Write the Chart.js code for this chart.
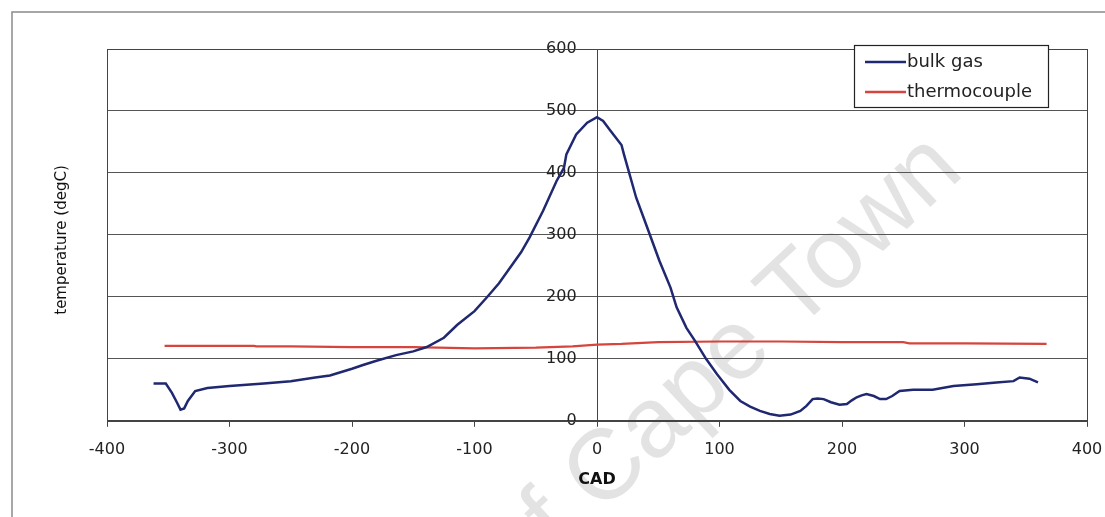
<!DOCTYPE html>
<html>
<head>
<meta charset="utf-8">
<script src="https://cdn.jsdelivr.net/npm/chart.js@4.4.1/dist/chart.umd.min.js"></script>
<style>
  body { margin: 0; background: #fff; }
  #wrap { width: 1105px; height: 517px; position: relative; }
</style>
</head>
<body>
<div id="wrap"><canvas id="myChart"></canvas></div>
<script>
// Data
// =======================================================
var bulkX = [-362, -352, -347, -343, -340, -337, -334, -328, -318, -300, -272, -250, -230, -218, -200, -191, -180, -164, -150, -139,
    -125, -114, -100, -90, -80, -71, -62, -55, -44, -33, -27, -25, -17, -8, 0, 5, 11, 20, 22, 32, 38, 43, 51, 60, 65, 73, 80, 89,
    98, 108, 117, 125, 133, 141, 149, 158, 166, 171, 176, 180, 185, 191, 198, 204, 208, 212, 216, 220, 226, 231, 236, 241, 247,
    258, 274, 291, 310, 326, 340, 345, 353, 360];
var bulkY = [60, 60, 45, 30, 18, 20, 32, 48, 53, 56, 60, 64, 70, 73, 84, 90, 97, 106, 112, 119,
    134, 155, 177, 199, 222, 247, 272, 296, 339, 387, 408, 430, 462, 481, 490, 484, 468, 445, 430, 360, 328, 301, 258, 215, 183, 150, 129, 100,
    75, 50, 32, 23, 16, 11, 8, 10, 16, 24, 35, 36, 35, 30, 26, 27, 33, 38, 41, 43, 40, 35, 35, 40, 48,
    50, 50, 56, 59, 62, 64, 70, 68, 62];

var tcX = [-353, -300, -280, -278, -250, -200, -150, -100, -50, -20, 0, 20, 50, 100, 150, 200, 250, 255, 300, 367];
var tcY = [121, 121, 121, 120, 120, 119, 119, 117, 118, 120, 123, 124, 127, 128, 128, 127, 127, 125, 125, 124];

var seriesNames = ["bulk gas", "thermocouple"];
var xTicks = [-400, -300, -200, -100, 0, 100, 200, 300, 400];
var yTicks = [0, 100, 200, 300, 400, 500, 600];

function toPoints(xs, ys) {
    var pts = [];
    for (var i = 0; i < xs.length; i++) {
        pts.push({ x: xs[i], y: ys[i] });
    }
    return pts;
}

// Frame, axis title, watermark and boxed legend
// =======================================================
var decorPlugin = {
    id: "decor",
    beforeDraw: function (chart) {
        var ctx = chart.ctx;
        ctx.save();
        // outer chart border (only top and left edges show)
        ctx.strokeStyle = "#8a8a8a";
        ctx.lineWidth = 1.5;
        ctx.strokeRect(12, 12, 1200, 700);
        // watermark, "C" of Cape starts at the anchor
        ctx.translate(600, 515);
        ctx.rotate(-43 * Math.PI / 180);
        ctx.font = "100px 'Liberation Sans'";
        ctx.fillStyle = "rgba(0,0,0,0.11)";
        ctx.textBaseline = "alphabetic";
        ctx.textAlign = "right";
        ctx.fillText("University of ", 0, 0);
        ctx.textAlign = "left";
        ctx.fillText("Cape Town", 0, 0);
        ctx.restore();
    },
    afterDraw: function (chart) {
        var ctx = chart.ctx;
        var a = chart.chartArea;
        ctx.save();
        // plot area border
        ctx.strokeStyle = "#444";
        ctx.lineWidth = 1;
        ctx.strokeRect(Math.round(a.left) + 0.5, Math.round(a.top) + 0.5, Math.round(a.right - a.left), Math.round(a.bottom - a.top));

        // y axis title
        ctx.translate(62, 240);
        ctx.rotate(-Math.PI / 2);
        ctx.font = "15px 'DejaVu Sans'";
        ctx.fillStyle = "#111";
        ctx.textAlign = "center";
        ctx.textBaseline = "middle";
        ctx.fillText("temperature (degC)", 0, 0);
        ctx.restore();

        // legend box
        ctx.save();
        ctx.fillStyle = "#fff";
        ctx.fillRect(854, 45, 194, 62);
        ctx.strokeStyle = "#222";
        ctx.lineWidth = 1.2;
        ctx.strokeRect(854.5, 45.5, 194, 62);
        var rows = [62, 92];
        chart.data.datasets.forEach(function (ds, i) {
            ctx.strokeStyle = ds.borderColor;
            ctx.lineWidth = 2.5;
            ctx.beginPath();
            ctx.moveTo(865, rows[i]);
            ctx.lineTo(906, rows[i]);
            ctx.stroke();
            ctx.font = "18px 'DejaVu Sans'";
            ctx.fillStyle = "#222";
            ctx.textAlign = "left";
            ctx.textBaseline = "middle";
            ctx.fillText(ds.label, 907, rows[i]);
        });
        ctx.restore();
    }
};

var ctx = document.getElementById("myChart");

var myChart = new Chart(ctx, {
    type: "scatter",
    data: {
        datasets: [{
            label: seriesNames[0],
            data: toPoints(bulkX, bulkY),
            showLine: true,
            borderColor: "#1f2870",
            borderWidth: 2.5,
            pointRadius: 0,
            tension: 0
        }, {
            label: seriesNames[1],
            data: toPoints(tcX, tcY),
            showLine: true,
            borderColor: "#d6453d",
            borderWidth: 2.2,
            pointRadius: 0,
            tension: 0
        }]
    },
    options: {
        responsive: true,
        maintainAspectRatio: false,
        animation: false,
        layout: {
            padding: { left: 107, right: 18, top: 49, bottom: 29 }
        },
        plugins: {
            legend: { display: false },
            tooltip: { enabled: false }
        },
        scales: {
            x: {
                type: "linear",
                position: "bottom",
                min: -400,
                max: 400,
                afterBuildTicks: function (axis) {
                    axis.ticks = xTicks.map(function (v) { return { value: v }; });
                },
                // end labels fit inside the fixed padding
                afterFit: function (axis) {
                    axis.paddingLeft = 0;
                    axis.paddingRight = 0;
                },
                grid: {
                    drawOnChartArea: false,
                    drawTicks: true,
                    tickLength: 6,
                    color: "#444"
                },
                border: { display: true, color: "#444", width: 1 },
                ticks: {
                    color: "#222",
                    padding: 13,
                    maxRotation: 0,
                    font: { family: "'DejaVu Sans'", size: 16 }
                },
                title: {
                    display: true,
                    text: "CAD",
                    color: "#111",
                    padding: { top: 0, bottom: 0 },
                    font: { family: "'DejaVu Sans'", size: 16, weight: "bold", lineHeight: 1 }
                }
            },
            y: {
                type: "linear",
                position: { x: 0 },
                min: 0,
                max: 600,
                afterBuildTicks: function (axis) {
                    axis.ticks = yTicks.map(function (v) { return { value: v }; });
                },
                // the centred axis should not eat into the plot width
                afterFit: function (axis) {
                    axis.width = 0;
                    axis.paddingLeft = 0;
                    axis.paddingRight = 0;
                },
                grid: {
                    color: "#555",
                    lineWidth: 1,
                    drawTicks: true,
                    tickLength: 8
                },
                border: { display: true, color: "#444", width: 1 },
                ticks: {
                    color: "#222",
                    font: { family: "'DejaVu Sans'", size: 16 },
                    // labels sit right against a centred axis, so pad them with trailing spaces
                    callback: function (value) {
                        return value + "    ";
                    }
                }
            }
        }
    },
    plugins: [decorPlugin]
});
</script>
</body>
</html>
